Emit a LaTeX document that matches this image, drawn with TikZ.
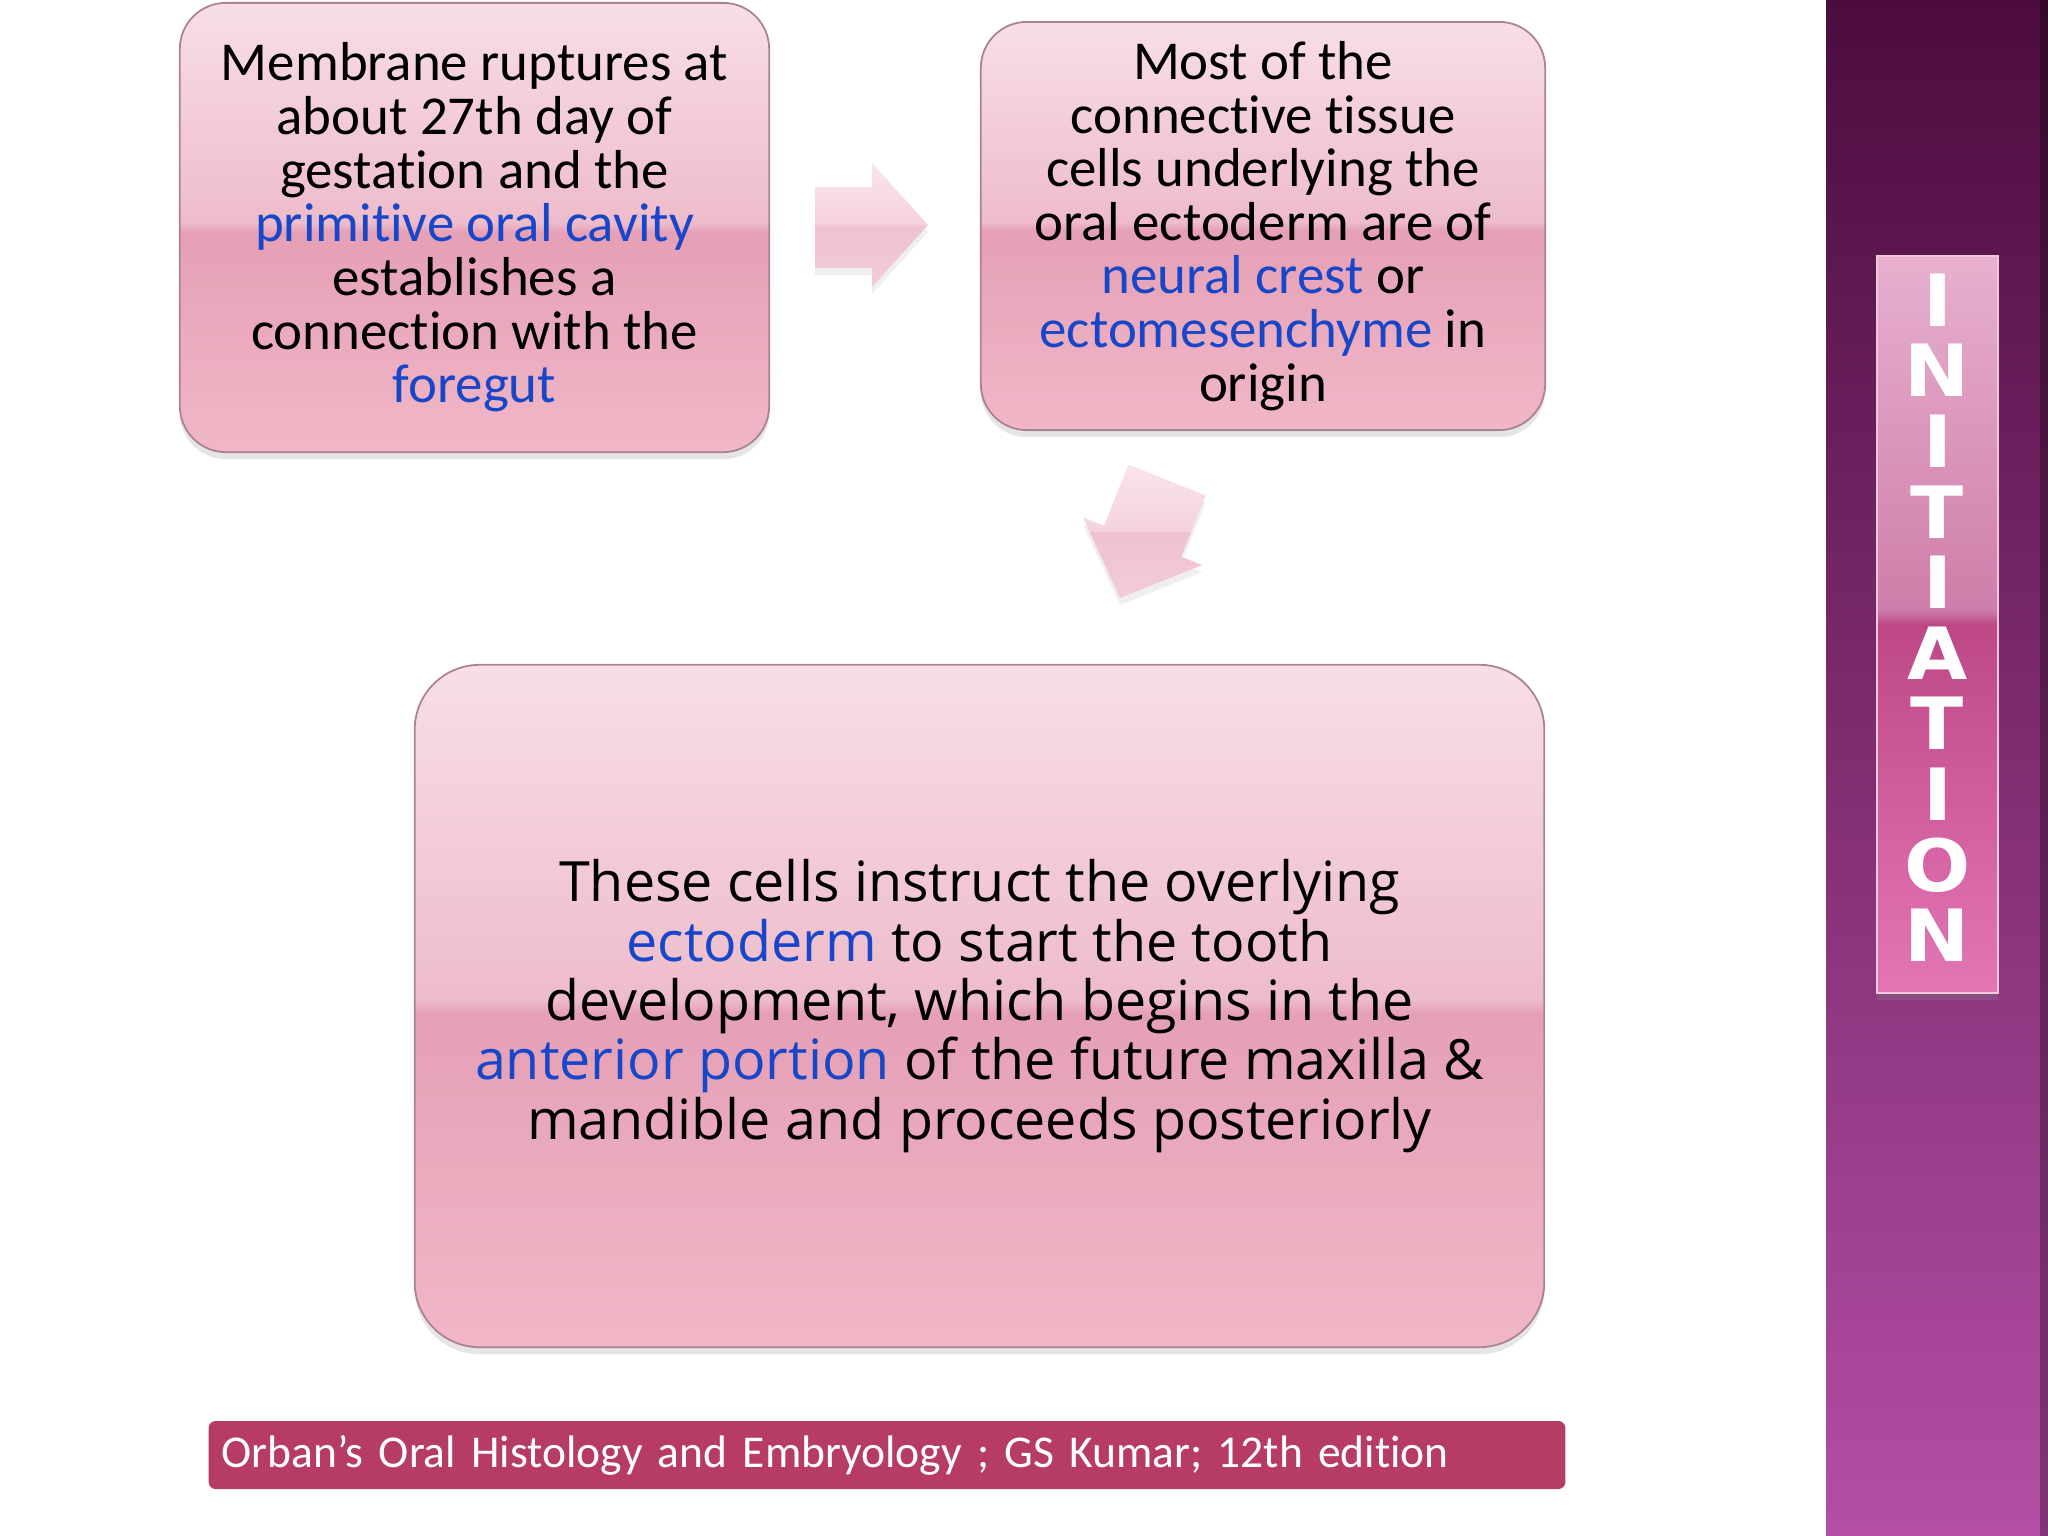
\documentclass[tikz,border=0pt]{standalone}
\usepackage{fontspec}
\setmainfont{Carlito}[RawFeature={-liga;-clig;-calt;-dlig;-rlig}]
\newfontfamily\slidefont{Open Sans}[Ligatures={NoCommon}]
\newfontfamily\tagfont{DejaVu Sans}
\usetikzlibrary{shadows, positioning}

\definecolor{keyblue}{RGB}{24, 70, 200}
\definecolor{boxedge}{RGB}{170, 130, 145}
\definecolor{boxtop}{RGB}{248, 222, 231}
\definecolor{boxhigh}{RGB}{238, 188, 203}
\definecolor{boxlow}{RGB}{229, 160, 181}
\definecolor{boxbot}{RGB}{240, 183, 199}
\definecolor{arrtop}{RGB}{250, 228, 236}
\definecolor{arrhigh}{RGB}{245, 210, 222}
\definecolor{arrlow}{RGB}{239, 194, 207}
\definecolor{arrbot}{RGB}{243, 203, 215}
\definecolor{tagtop}{RGB}{232, 176, 206}
\definecolor{taghigh}{RGB}{206, 126, 170}
\definecolor{taglow}{RGB}{190, 72, 134}
\definecolor{tagbot}{RGB}{228, 118, 182}
\definecolor{barsky}{RGB}{76, 12, 62}
\definecolor{barmid}{RGB}{128, 44, 116}
\definecolor{barfloor}{RGB}{180, 78, 166}
\definecolor{footred}{RGB}{182, 60, 100}

\pgfdeclareverticalshading{glossbox}{100bp}{color(0bp)=(boxbot); color(25bp)=(boxbot); color(49.5bp)=(boxlow); color(50.5bp)=(boxhigh); color(75bp)=(boxtop); color(100bp)=(boxtop)}
\pgfdeclareverticalshading{glossarrow}{100bp}{color(0bp)=(arrbot); color(25bp)=(arrbot); color(49.5bp)=(arrlow); color(50.5bp)=(arrhigh); color(75bp)=(arrtop); color(100bp)=(arrtop)}
\pgfdeclareverticalshading{glosstag}{100bp}{color(0bp)=(tagbot); color(25bp)=(tagbot); color(50bp)=(taglow); color(51bp)=(taghigh); color(75bp)=(tagtop); color(100bp)=(tagtop)}

\newcommand\tightlines{\lineskiplimit=-20pt\relax}

\begin{document}
\begin{tikzpicture}[
  x=0.01cm, y=-0.01cm,
  stepbox/.style={draw=boxedge, line width=0.5pt, shade, shading=glossbox, align=center, inner sep=0pt,
    drop shadow={shadow xshift=0pt, shadow yshift=-2pt, opacity=0.2}},
  smalltext/.style={font=\fontsize{15.6}{15.25}\selectfont\tightlines},
  bigtext/.style={font=\slidefont\fontsize{15.8}{16.9}\selectfont\tightlines},
  flowarrow/.style={shade, shading=glossarrow, drop shadow={shadow xshift=0pt, shadow yshift=-2pt, opacity=0.12}},
  tagletter/.style={text=white, font=\tagfont\bfseries\fontsize{20.5}{20.5}\selectfont, inner sep=0pt, xscale=1.08}
]
\useasboundingbox (0,0) rectangle (2048,1536);
\fill[white] (0,0) rectangle (2048,1536);

% side bar
\shade[top color=barsky, middle color=barmid, bottom color=barfloor] (1826,0) rectangle (2048,1536);
\fill[black, opacity=0.3] (2040,0) rectangle (2048,1536);
\node[draw=tagtop!70!white, line width=0.6pt, shade, shading=glosstag, minimum width=1.21cm, minimum height=7.37cm,
  drop shadow={shadow xshift=0pt, shadow yshift=-2pt, opacity=0.3}] (tagbox) at (1937.5,624.5) {};
\foreach \ch [count=\i] in {I,N,I,T,I,A,T,I,O,N}
  \node[tagletter] (letter\i) at (1937.5,{300+(\i-1)*70.6}) {\ch};

% flow boxes
\node[stepbox, smalltext, rounded corners=0.46cm, minimum width=5.89cm, minimum height=4.49cm] (membrane) at (474.5,227.5)
  {Membrane ruptures at\\ about 27th day of\\ gestation and the\\ \textcolor{keyblue}{primitive oral cavity}\\ establishes a\\ connection with the\\ \textcolor{keyblue}{foregut}};
\node[stepbox, smalltext, rounded corners=0.46cm, minimum width=5.64cm, minimum height=4.08cm] (crest) at (1263,226)
  {Most of the\\ connective tissue\\ cells underlying the\\ oral ectoderm are of\\ \textcolor{keyblue}{neural crest} or\\ \textcolor{keyblue}{ectomesenchyme} in\\ origin};
\node[stepbox, bigtext, rounded corners=0.65cm, minimum width=11.29cm, minimum height=6.82cm] (tooth) at (979.5,1006)
  {These cells instruct the overlying\\ \textcolor{keyblue}{ectoderm} to start the tooth\\ development, which begins in the\\ \textcolor{keyblue}{anterior portion} of the future maxilla \&\\ mandible and proceeds posteriorly};

% block arrows
\path[flowarrow] (815,187) -- (872,187) -- (872,163) -- (928,225) -- (872,287) -- (872,268) -- (815,268) -- cycle;
\path[flowarrow] (1128.4,464.6) -- (1205.6,495.4) -- (1181.2,556.7) -- (1202.1,565) -- (1120,598) -- (1083.1,517.6) -- (1104,525.9) -- cycle;

% reference
\node[fill=footred, rounded corners=2pt, minimum width=13.56cm, minimum height=0.68cm, text width=13.3cm, inner xsep=0.13cm,
  align=left, text=white, font=\fontsize{12.95}{14}\selectfont] (source) at (887,1455)
  {Orban’s Oral Histology and Embryology ; GS Kumar; 12th edition};

\end{tikzpicture}
\end{document}
